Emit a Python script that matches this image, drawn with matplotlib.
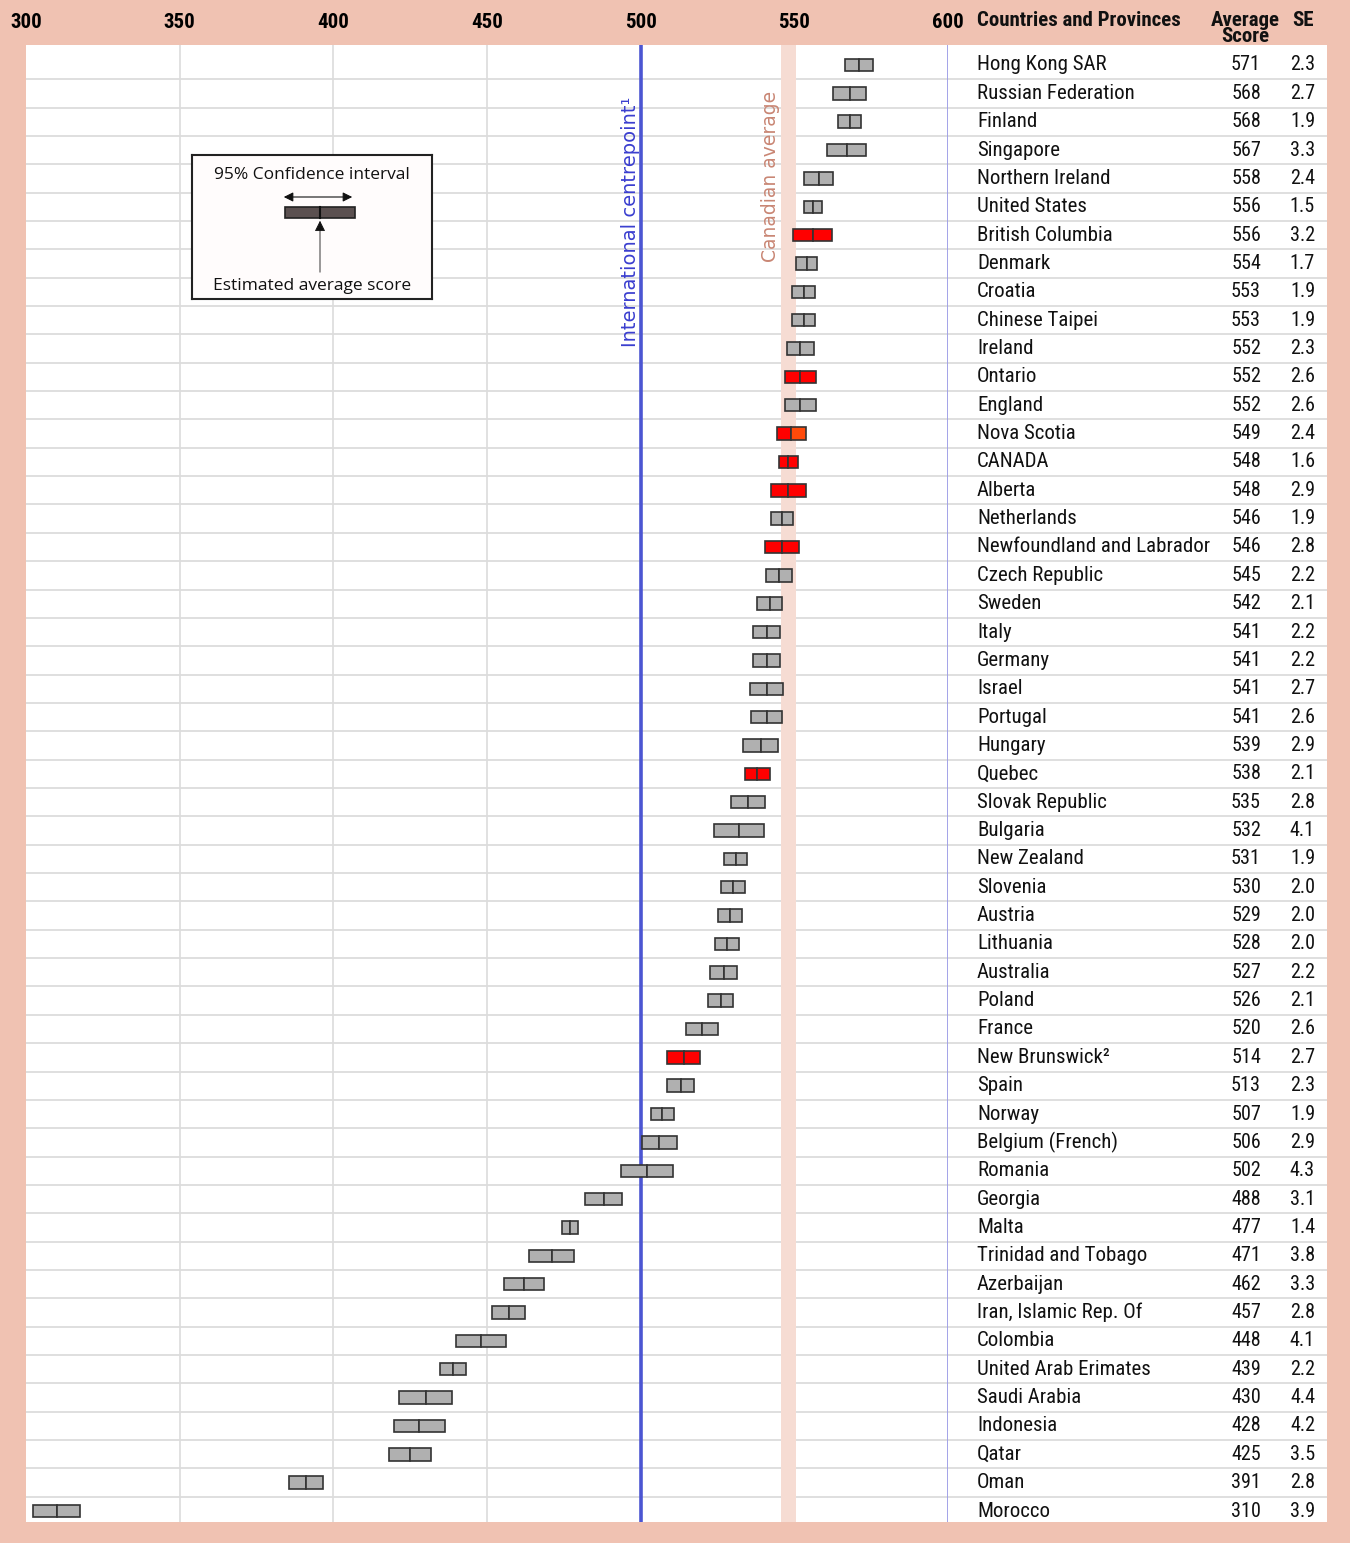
import matplotlib
matplotlib.use("Agg")
import matplotlib.pyplot as plt
import matplotlib.transforms as mtransforms
from matplotlib import font_manager as fm
from matplotlib.patches import Rectangle

# ---------------- data ----------------
countries = ["Hong Kong SAR", "Russian Federation", "Finland", "Singapore", "Northern Ireland",
             "United States", "British Columbia", "Denmark", "Croatia", "Chinese Taipei",
             "Ireland", "Ontario", "England", "Nova Scotia", "CANADA", "Alberta", "Netherlands",
             "Newfoundland and Labrador", "Czech Republic", "Sweden", "Italy", "Germany", "Israel",
             "Portugal", "Hungary", "Quebec", "Slovak Republic", "Bulgaria", "New Zealand",
             "Slovenia", "Austria", "Lithuania", "Australia", "Poland", "France",
             "New Brunswick²", "Spain", "Norway", "Belgium (French)", "Romania", "Georgia",
             "Malta", "Trinidad and Tobago", "Azerbaijan", "Iran, Islamic Rep. Of", "Colombia",
             "United Arab Erimates", "Saudi Arabia", "Indonesia", "Qatar", "Oman", "Morocco"]
scores = [571, 568, 568, 567, 558, 556, 556, 554, 553, 553, 552, 552, 552, 549, 548, 548, 546,
          546, 545, 542, 541, 541, 541, 541, 539, 538, 535, 532, 531, 530, 529, 528, 527, 526,
          520, 514, 513, 507, 506, 502, 488, 477, 471, 462, 457, 448, 439, 430, 428, 425, 391, 310]
se = [2.3, 2.7, 1.9, 3.3, 2.4, 1.5, 3.2, 1.7, 1.9, 1.9, 2.3, 2.6, 2.6, 2.4, 1.6, 2.9, 1.9, 2.8,
      2.2, 2.1, 2.2, 2.2, 2.7, 2.6, 2.9, 2.1, 2.8, 4.1, 1.9, 2.0, 2.0, 2.0, 2.2, 2.1, 2.6, 2.7,
      2.3, 1.9, 2.9, 4.3, 3.1, 1.4, 3.8, 3.3, 2.8, 4.1, 2.2, 4.4, 4.2, 3.5, 2.8, 3.9]
canadian = ["British Columbia", "Ontario", "Nova Scotia", "CANADA", "Alberta",
            "Newfoundland and Labrador", "Quebec", "New Brunswick²"]
xticks = [300, 350, 400, 450, 500, 550, 600]
gridx = [350, 400, 450, 550]
international_centrepoint = 500
canada_avg = 548

# ---------------- fonts ----------------
names = {f.name for f in fm.fontManager.ttflist}
def pick(cands, default="DejaVu Sans"):
    for c in cands:
        if c in names:
            return c
    return default

COND = pick(["Liberation Sans Narrow", "Roboto Condensed", "Open Sans Condensed"])
COND_STRETCH = "condensed"
REG = pick(["Open Sans", "Lato", "Noto Sans"])

SALMON = "#F0C2B2"
W, H = 1350, 1543
fig = plt.figure(figsize=(W / 100, H / 100), dpi=100, facecolor=SALMON)

def fx(px):
    return px / W
def fy(py):
    return 1 - py / H

top_px, bot_px = 45, 1522
left_px, mid_px, right_px = 26, 948, 1327
n = len(countries)
first_c, last_c = 65, 1511
rowh = (last_c - first_c) / (n - 1)
ytop = -(first_c - top_px) / rowh
ybot = (n - 1) + (bot_px - last_c) / rowh

ax = fig.add_axes([fx(left_px), fy(bot_px), fx(mid_px - left_px), (bot_px - top_px) / H])
tab = fig.add_axes([fx(mid_px), fy(bot_px), fx(right_px - mid_px), (bot_px - top_px) / H])
for a in (ax, tab):
    a.set_facecolor("white")
    a.set_ylim(ybot, ytop)
    for s in a.spines.values():
        s.set_visible(False)
    a.set_yticks([])

ax.set_xlim(300, 600)
tab.set_xlim(0, 1)
tab.set_xticks([])

# grid
for g in gridx:
    ax.axvline(g, color="#DEDEDE", lw=1.3, zorder=1)
for i in range(n - 1):
    for a in (ax, tab):
        a.axhline(i + 0.5, color="#DCDCDC", lw=1.3, zorder=1)

# canadian band and reference lines
cv = 2.4
ax.axvspan(canada_avg - cv, canada_avg + cv, color="#F6DCD3", zorder=1.5, lw=0)
ax.axvline(international_centrepoint, color="#4B55D2", lw=2.6, zorder=2)
ax.axvline(600, color="#9C9CE6", lw=1.3, zorder=2)

# bars
bh = 0.44
for i, (c, s, e) in enumerate(zip(countries, scores, se)):
    ci = 1.96 * e
    if c in canadian:
        lc, rc = "#FF0000", ("#FF4A0A" if c == "Nova Scotia" else "#FF0000")
    else:
        lc = rc = "#B0B0B0"
    ax.barh(i, ci, left=s - ci, height=bh, color=lc, edgecolor="#333333", lw=1.2, zorder=3)
    ax.barh(i, ci, left=s, height=bh, color=rc, edgecolor="#333333", lw=1.2, zorder=3)

# top tick labels
ax.xaxis.tick_top()
ax.set_xticks(xticks)
ax.set_xticklabels([str(t) for t in xticks], fontfamily=COND, fontstretch=COND_STRETCH,
                   fontweight="bold", fontsize=15)
ax.tick_params(axis="x", length=0, pad=9)

# vertical labels
int_mid_row = (222 - first_c) / rowh
can_mid_row = (176 - first_c) / rowh
off_int = mtransforms.offset_copy(ax.transData, fig=fig, x=-10, y=0, units="dots")
ax.text(international_centrepoint, int_mid_row, "International centrepoint¹", transform=off_int,
        rotation=90, ha="center", va="center", color="#3A3ECF", fontsize=14,
        fontfamily="DejaVu Sans", zorder=4)
off_can = mtransforms.offset_copy(ax.transData, fig=fig, x=-18, y=0, units="dots")
ax.text(canada_avg, can_mid_row, "Canadian average", transform=off_can, rotation=90,
        ha="center", va="center", color="#C98674", fontsize=13.5, fontfamily="DejaVu Sans",
        zorder=4)

# table
for i, (c, s, e) in enumerate(zip(countries, scores, se)):
    tab.text((977 - mid_px) / (right_px - mid_px), i, c, ha="left", va="center",
             fontfamily=COND, fontstretch=COND_STRETCH, fontsize=15, color="#111111")
    tab.text((1261 - mid_px) / (right_px - mid_px), i, str(s), ha="right", va="center",
             fontfamily=COND, fontstretch=COND_STRETCH, fontsize=14.5, color="#111111")
    tab.text((1315 - mid_px) / (right_px - mid_px), i, f"{e:.1f}", ha="right", va="center",
             fontfamily=COND, fontstretch=COND_STRETCH, fontsize=14.5, color="#111111")

hdr = dict(fontfamily=COND, fontstretch=COND_STRETCH, fontweight="bold", fontsize=15,
           color="#111111")
fig.text(fx(977), fy(21), "Countries and Provinces", ha="left", va="center", **hdr)
fig.text(fx(1245), fy(28), "Average\nScore", ha="center", va="center", linespacing=0.8, **hdr)
fig.text(fx(1303), fy(21), "SE", ha="center", va="center", **hdr)

# legend box
lb = fig.add_axes([fx(192), fy(299), fx(432 - 192), (299 - 155) / H])
lb.set_xlim(0, 240)
lb.set_ylim(144, 0)
lb.set_xticks([])
lb.set_yticks([])
lb.set_facecolor("#FFFCFC")
for s in lb.spines.values():
    s.set_linewidth(1.5)
    s.set_color("#222222")
lb.text(120, 20, "95% Confidence interval", ha="center", va="center", fontsize=12.5,
        fontfamily=REG, color="#111111")
lb.text(120, 131, "Estimated average score", ha="center", va="center", fontsize=12.5,
        fontfamily=REG, color="#111111")
lb.annotate("", xy=(89, 42), xytext=(163, 42),
            arrowprops=dict(arrowstyle="<|-|>", color="#111111", lw=0.8, mutation_scale=14))
lb.add_patch(Rectangle((93, 52), 70, 11, facecolor="#5B5050", edgecolor="#222222", lw=1.2))
lb.plot([128, 128], [52, 63], color="#111111", lw=1.5)
lb.annotate("", xy=(128, 63), xytext=(128, 120),
            arrowprops=dict(arrowstyle="-|>", color="#111111", lw=0.6, mutation_scale=16))

fig.savefig("out.png", dpi=100, facecolor=SALMON)
